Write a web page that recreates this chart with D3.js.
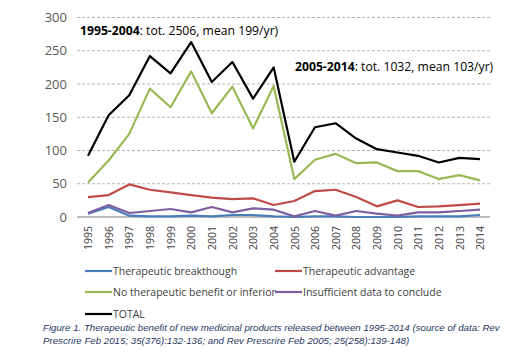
<!DOCTYPE html>
<html>
<head>
<meta charset="utf-8">
<script src="https://cdn.jsdelivr.net/npm/d3@7"></script>
<style>
  body { margin: 0; background: #fff; }
  svg { display: block; }
</style>
</head>
<body>
<div id="chart"></div>
<script>
const years = ['1995','1996','1997','1998','1999','2000','2001','2002','2003','2004',
               '2005','2006','2007','2008','2009','2010','2011','2012','2013','2014'];
const breakthrough = [5, 15, 2, 1, 1, 2, 1, 3, 3, 1, 0, 1, 1, 0, 0, 0, 1, 1, 1, 3];
const advantage    = [30, 33, 49, 41, 37, 33, 29, 27, 28, 18, 24, 39, 41, 30, 16, 25, 15, 16, 18, 20];
const noBenefit    = [52, 85, 125, 193, 165, 219, 156, 196, 133, 197, 57, 86, 95, 81, 82, 69, 69, 57, 63, 55];
const insufficient = [6, 18, 6, 9, 12, 7, 15, 7, 13, 11, 1, 9, 2, 9, 5, 2, 7, 7, 9, 11];
const total        = [92, 153, 183, 242, 216, 263, 203, 233, 178, 225, 83, 135, 141, 118, 102, 97, 92, 82, 89, 87];
const yTicks = [0, 50, 100, 150, 200, 250, 300];

const series = [
  { name: 'Therapeutic breakthough', values: breakthrough, color: '#4a7ebb' },
  { name: 'Therapeutic advantage', values: advantage, color: '#be4b48' },
  { name: 'No therapeutic benefit or inferior', values: noBenefit, color: '#98b954' },
  { name: 'Insufficient data to conclude', values: insufficient, color: '#7d60a0' },
  { name: 'TOTAL', values: total, color: '#000000' }
];

const width = 520, height = 361;
const font = '"Open Sans", sans-serif';

const svg = d3.select('#chart').append('svg')
  .attr('width', width)
  .attr('height', height);

const x = d3.scalePoint().domain(years).range([88, 480]);
const y = d3.scaleLinear().domain([0, 300]).range([217, 17.5]);

// gridlines
svg.append('g')
  .selectAll('line')
  .data(yTicks.filter(d => d > 0))
  .enter()
  .append('line')
  .attr('x1', 77).attr('x2', 490)
  .attr('y1', d => y(d)).attr('y2', d => y(d))
  .attr('stroke', '#b3b3b3')
  .attr('stroke-width', 1)
  .attr('stroke-dasharray', '3,2');

// y axis labels
const yAxis = svg.append('g')
  .attr('transform', 'translate(77,0)')
  .call(d3.axisLeft(y).tickValues(yTicks).tickSize(0).tickPadding(10));
yAxis.select('.domain').remove();
yAxis.selectAll('text')
  .attr('font-family', font)
  .attr('font-size', 13)
  .attr('fill', '#595959');

// x axis
const xAxis = svg.append('g')
  .attr('transform', `translate(0,${y(0)})`)
  .call(d3.axisBottom(x).tickSize(0).tickPadding(0));
xAxis.select('.domain')
  .attr('d', `M77,0H490`)
  .attr('stroke', '#a6a6a6')
  .attr('stroke-width', 1.3);
xAxis.selectAll('text')
  .attr('font-family', font)
  .attr('font-size', 10.5)
  .attr('fill', '#404040')
  .attr('transform', 'rotate(-90)')
  .attr('text-anchor', 'end')
  .attr('x', -9)
  .attr('y', 0)
  .attr('dy', '0.35em');

// lines
const line = d3.line()
  .x((d, i) => x(years[i]))
  .y(d => y(d));

svg.append('g')
  .selectAll('path')
  .data(series)
  .enter()
  .append('path')
  .attr('d', d => line(d.values))
  .attr('fill', 'none')
  .attr('stroke', d => d.color)
  .attr('stroke-width', 2.2)
  .attr('stroke-linejoin', 'round');

// annotations
const notes = [
  { bold: '1995-2004', rest: ': tot. 2506, mean 199/yr)', x: 80, y: 35 },
  { bold: '2005-2014', rest: ': tot. 1032, mean 103/yr)', x: 295, y: 71 }
];
notes.forEach(n => {
  const t = svg.append('text')
    .attr('x', n.x).attr('y', n.y)
    .attr('font-family', font)
    .attr('font-size', 12.2)
    .attr('fill', '#000');
  t.append('tspan').attr('font-weight', 'bold').text(n.bold);
  t.append('tspan').text(n.rest);
});

// legend
const legendPos = [
  { x: 85, y: 271 }, { x: 275, y: 271 },
  { x: 85, y: 292 }, { x: 275, y: 292 },
  { x: 85, y: 314 }
];
const legend = svg.append('g')
  .selectAll('g')
  .data(series)
  .enter()
  .append('g')
  .attr('transform', (d, i) => `translate(${legendPos[i].x},${legendPos[i].y})`);
legend.append('line')
  .attr('x1', 0).attr('x2', 27)
  .attr('stroke', d => d.color)
  .attr('stroke-width', 2.2);
legend.append('text')
  .attr('x', 28)
  .attr('dy', '0.35em')
  .attr('font-family', font)
  .attr('font-size', 10.5)
  .attr('fill', '#404040')
  .text(d => d.name);

// caption
const caption = [
  'Figure 1. Therapeutic benefit of new medicinal products released between 1995-2014 (source of data: Rev',
  'Prescrire Feb 2015; 35(376):132-136; and Rev Prescrire Feb 2005; 25(258):139-148)'
];
svg.append('g')
  .selectAll('text')
  .data(caption)
  .enter()
  .append('text')
  .attr('x', 43)
  .attr('y', (d, i) => 331 + i * 12.5)
  .attr('font-family', '"Liberation Sans", Arial, sans-serif')
  .attr('font-style', 'italic')
  .attr('font-size', 9.7)
  .attr('fill', '#1f3864')
  .text(d => d);
</script>
</body>
</html>
